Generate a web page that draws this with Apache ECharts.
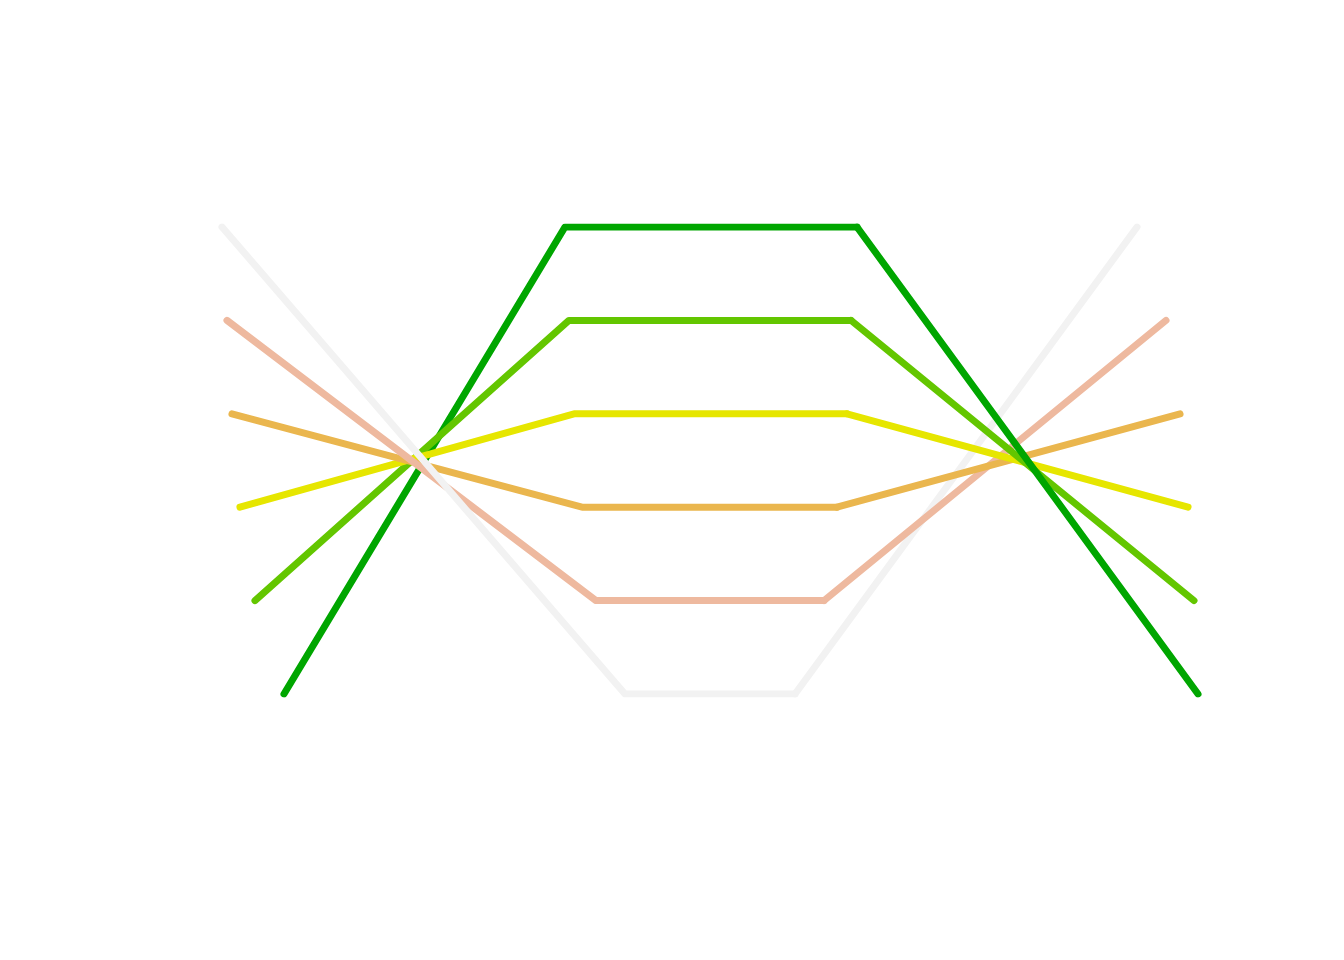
<!DOCTYPE html>
<html>
<head>
<meta charset="utf-8">
<script src="https://cdn.jsdelivr.net/npm/echarts@6/dist/echarts.min.js"></script>
<style>html,body{margin:0;padding:0;background:#fff;}#c{width:1344px;height:960px;}</style>
</head>
<body>
<div id="c"></div>
<script>
// series names / colours (terrain palette)
const names = ['s1','s2','s3','s4','s5','s6'];
const colors = ['#00A600','#63C600','#E6E600','#EAB64E','#EEB99F','#F2F2F2'];
// x positions of the four vertices of each line
const xDarkGreen  = [6.35, 35.14, 65.06, 100.0];
const xLightGreen = [3.38, 35.55, 64.45, 99.59];
const xYellow     = [1.84, 36.07, 64.04, 98.98];
const xOrange     = [1.02, 36.89, 63.01, 98.16];
const xSalmon     = [0.51, 38.32, 61.68, 96.72];
const xGray       = [0.00, 41.29, 58.71, 93.75];
// y values of the four vertices
const yDarkGreen  = [1, 6, 6, 1];
const yLightGreen = [2, 5, 5, 2];
const yYellow     = [3, 4, 4, 3];
const yOrange     = [4, 3, 3, 4];
const ySalmon     = [5, 2, 2, 5];
const yGray       = [6, 1, 1, 6];

const X = [xDarkGreen, xLightGreen, xYellow, xOrange, xSalmon, xGray];
const Y = [yDarkGreen, yLightGreen, yYellow, yOrange, ySalmon, yGray];

function pts(i, a, b) {
  const out = [];
  for (let k = a; k <= b; k++) out.push([X[i][k], Y[i][k]]);
  return out;
}
function mk(i, data) {
  return {
    type: 'line', name: names[i], data: data, symbol: 'none', silent: true,
    animation: false,
    lineStyle: { color: colors[i], width: 7, cap: 'round', join: 'round' }
  };
}
const series = [];
// left parts drawn first->last, right parts drawn last->first
for (let i = 0; i < 6; i++) series.push(mk(i, pts(i, 0, 2)));
for (let i = 5; i >= 0; i--) series.push(mk(i, pts(i, 2, 3)));

const chart = echarts.init(document.getElementById('c'));
chart.setOption({
  backgroundColor: '#ffffff',
  animation: false,
  grid: { left: 222, right: 146, top: 227, bottom: 266 },
  xAxis: { type: 'value', min: 0, max: 100, show: false },
  yAxis: { type: 'value', min: 1, max: 6, show: false },
  series: series
});
</script>
</body>
</html>
